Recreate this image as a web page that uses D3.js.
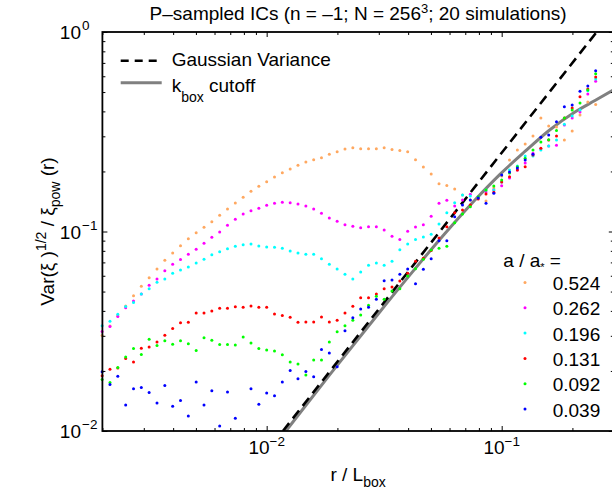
<!DOCTYPE html>
<html lang="en">
<head>
  <meta charset="UTF-8">
  <title>P-sampled ICs variance</title>
  <script src="https://cdn.jsdelivr.net/npm/d3@7/dist/d3.min.js"></script>
  <style>
    body { margin: 0; background: #fff; }
    svg { display: block; font-family: "Liberation Sans", Arial, sans-serif; }
  </style>
</head>
<body>
  <svg id="chart" width="612" height="499"></svg>
  <script>
    // separation r / L_box (shared by all series)
    const rVals = [0.001995,0.002154,0.002326,0.002512,0.002713,0.002929,0.003162,0.003415,0.003687,0.003981,
      0.004299,0.004642,0.005012,0.005412,0.005843,0.006310,0.006813,0.007356,0.007943,0.008577,
      0.009261,0.01,0.01080,0.01166,0.01259,0.01359,0.01468,0.01585,0.01711,0.01848,
      0.01995,0.02154,0.02326,0.02512,0.02713,0.02929,0.03162,0.03415,0.03687,0.03981,
      0.04299,0.04642,0.05012,0.05412,0.05843,0.06310,0.06813,0.07356,0.07943,0.08577,
      0.09261,0.1,0.1080,0.1166,0.1259,0.1359,0.1468,0.1585,0.1711,0.1848,
      0.1995,0.2154,0.2326,0.2512];

    const v0524 = [0.0301,0.0336,0.0378,0.0423,0.0476,0.0531,0.0586,0.0648,0.0717,0.0780,
      0.0849,0.0920,0.0986,0.105,0.112,0.1206,0.1297,0.139,0.1484,0.159,
      0.1684,0.1776,0.1875,0.197,0.2057,0.2146,0.223,0.229,0.234,0.2437,
      0.251,0.259,0.263,0.260,0.260,0.260,0.263,0.258,0.255,0.251,
      0.229,0.2105,0.194,0.1736,0.170,0.1633,0.1524,0.1438,0.1472,0.1421,
      0.165,0.1897,0.2282,0.2562,0.2745,0.3015,0.3705,0.338,0.334,0.2875,
      0.319,0.384,0.4455,0.4325];
    const v0262 = [0.0315,0.0334,0.0375,0.0415,0.0449,0.0486,0.0537,0.0578,0.0636,0.0685,
      0.0723,0.0768,0.0815,0.0873,0.0935,0.0994,0.1074,0.1151,0.1224,0.1272,
      0.1307,0.1353,0.1385,0.140,0.1395,0.1374,0.1342,0.1297,0.1234,0.1169,
      0.1125,0.1082,0.1062,0.1045,0.1057,0.1057,0.1017,0.0946,0.0913,0.1002,
      0.1053,0.1082,0.1192,0.1385,0.1433,0.1342,0.1438,0.1536,0.1489,0.1577,
      0.1614,0.1696,0.1854,0.2033,0.2204,0.2465,0.260,0.2683,0.2705,0.342,
      0.3705,0.3967,0.4886,0.5664];
    const v0196 = [0.0337,0.0355,0.0385,0.0421,0.0441,0.0486,0.0517,0.0556,0.0578,0.0617,
      0.0641,0.0663,0.0695,0.0726,0.0765,0.0792,0.0820,0.0843,0.0859,0.0866,
      0.0846,0.0836,0.0833,0.0824,0.0799,0.0780,0.0768,0.0768,0.0731,0.0685,
      0.0648,0.0610,0.0578,0.0626,0.0677,0.0695,0.0677,0.0709,0.0811,0.0866,
      0.0913,0.0938,0.0968,0.1091,0.1243,0.1395,0.1524,0.1507,0.1472,0.1614,
      0.1614,0.1770,0.2033,0.2129,0.2389,0.2389,0.2562,0.2683,0.2875,0.3448,
      0.3796,0.406,0.508,0.5817];
    const v0131 = [0.0189,0.0204,0.0207,0.0231,0.0222,0.0260,0.0264,0.0279,0.0302,0.0326,
      0.0349,0.0351,0.0390,0.0390,0.0399,0.0412,0.0412,0.0420,0.0417,0.0423,
      0.0417,0.0417,0.0386,0.0379,0.0372,0.0351,0.0352,0.0352,0.0373,0.0352,
      0.0359,0.0390,0.0422,0.0465,0.0465,0.0486,0.0517,0.0527,0.0564,0.0617,
      0.0709,0.0734,0.0802,0.0927,0.1057,0.1243,0.1282,0.1358,0.1455,0.1542,
      0.1571,0.1770,0.1882,0.2033,0.2112,0.2417,0.2613,0.2875,0.3015,0.3705,
      0.4164,0.4736,0.518,0.595];
    const v0092 = [0.0181,0.0175,0.0208,0.0235,0.0259,0.0242,0.0288,0.0268,0.0283,0.0272,
      0.0283,0.0274,0.0253,0.0293,0.0285,0.0271,0.0271,0.0270,0.0296,0.0276,
      0.0259,0.0255,0.0252,0.0241,0.0222,0.0217,0.0191,0.0227,0.0227,0.0279,
      0.0314,0.0337,0.0359,0.0382,0.0427,0.0473,0.0458,0.0503,0.0517,0.0598,
      0.0651,0.0726,0.0808,0.0824,0.0843,0.1107,0.1224,0.1332,0.1494,0.1614,
      0.1690,0.1812,0.1964,0.2112,0.2327,0.2562,0.2809,0.2885,0.3204,0.3705,
      0.406,0.4411,0.512,0.618];
    const v0039 = [0.0198,0.0171,0.0188,0.0135,0.0163,0.0165,0.0156,0.0138,0.0169,0.0133,
      0.0142,0.0119,0.0176,0.0135,0.0159,0.0106,0.0157,0.0116,null,0.0163,
      0.0136,0.0155,0.0150,0.0176,0.0201,0.0183,0.0199,0.0187,0.0256,0.0246,
      0.0210,0.0318,0.0370,0.0409,0.0417,0.0457,0.0566,0.0571,0.0610,0.0648,
      0.0547,0.0646,0.0731,0.0899,0.0899,0.1186,0.1358,0.1438,0.1472,0.1385,
      0.1555,0.1919,0.1986,0.2081,0.2282,0.2437,0.297,0.305,0.355,0.4225,
      0.431,0.5044,0.5358,0.640];

    const seriesLabels = ['0.524', '0.262', '0.196', '0.131', '0.092', '0.039'];
    const seriesValues = [v0524, v0262, v0196, v0131, v0092, v0039];
    const seriesColors = ['#ffa860', '#ff00ff', '#00ffff', '#ff0000', '#00ff00', '#0000ff'];

    // reference curves
    const gaussR = [0.01173, 0.2537];
    const gaussV = [0.01, 1];
    const kboxR = [0.01143, 0.01208, 0.01860, 0.03034, 0.04491, 0.06026, 0.07697, 0.09835, 0.1256, 0.1605, 0.2050, 0.2495, 0.3034];
    const kboxV = [0.0092, 0.01, 0.01924, 0.03963, 0.06962, 0.1044, 0.1438, 0.1935, 0.2518, 0.3237, 0.3972, 0.4535, 0.5178];

    const xMajor = [0.01, 0.1];
    const xMinor = [0.002, 0.003, 0.004, 0.005, 0.006, 0.007, 0.008, 0.009,
      0.02, 0.03, 0.04, 0.05, 0.06, 0.07, 0.08, 0.09, 0.2, 0.3];
    const yMajor = [0.01, 0.1, 1];
    const yMinor = [0.02, 0.03, 0.04, 0.05, 0.06, 0.07, 0.08, 0.09,
      0.2, 0.3, 0.4, 0.5, 0.6, 0.7, 0.8, 0.9];

    const plot = { left: 102.4, right: 613.8, top: 32, bottom: 431 };
    const fs = 19;

    const svg = d3.select('#chart');
    const x = d3.scaleLog().domain([0.002, 0.3]).range([plot.left, plot.right]);
    const y = d3.scaleLog().domain([0.01, 1]).range([plot.bottom, plot.top]);

    svg.append('clipPath').attr('id', 'clip')
      .append('rect')
      .attr('x', plot.left).attr('y', plot.top)
      .attr('width', plot.right - plot.left).attr('height', plot.bottom - plot.top);

    // Gaussian variance (dashed) and k_box cutoff (grey)
    const smooth = d3.line().x(d => x(d[0])).y(d => y(d[1])).curve(d3.curveMonotoneX);
    const straight = d3.line().x(d => x(d[0])).y(d => y(d[1]));
    svg.append('path')
      .attr('clip-path', 'url(#clip)')
      .attr('d', smooth(d3.zip(kboxR, kboxV)))
      .attr('fill', 'none').attr('stroke', '#808080').attr('stroke-width', 3);
    svg.append('path')
      .attr('clip-path', 'url(#clip)')
      .attr('d', straight(d3.zip(gaussR, gaussV)))
      .attr('fill', 'none').attr('stroke', '#000').attr('stroke-width', 2.6)
      .attr('stroke-dasharray', '10,6');

    // dots
    seriesValues.forEach((vals, k) => {
      const pts = d3.zip(rVals, vals).filter(d => d[1] != null && d[1] >= 0.01 && d[1] <= 1);
      svg.append('g')
        .selectAll('circle')
        .data(pts)
        .enter().append('circle')
        .attr('cx', d => x(d[0]))
        .attr('cy', d => y(d[1]))
        .attr('r', 1.5)
        .attr('fill', seriesColors[k]);
    });

    // axes: ticks pointing inward on all four sides
    function ticks(gen, tx, ty) {
      const g = svg.append('g').attr('transform', `translate(${tx},${ty})`).call(gen);
      g.select('.domain').remove();
      g.selectAll('text').remove();
      g.selectAll('line').attr('stroke', '#000').attr('stroke-width', 1);
    }
    [[xMajor, 5], [xMinor, 3]].forEach(([vals, len]) => {
      ticks(d3.axisBottom(x).tickValues(vals).tickSize(-len), 0, plot.bottom);
      ticks(d3.axisTop(x).tickValues(vals).tickSize(-len), 0, plot.top);
    });
    [[yMajor, 5], [yMinor, 3]].forEach(([vals, len]) => {
      ticks(d3.axisLeft(y).tickValues(vals).tickSize(-len), plot.left, 0);
      ticks(d3.axisRight(y).tickValues(vals).tickSize(-len), plot.right, 0);
    });
    svg.append('rect')
      .attr('x', plot.left).attr('y', plot.top)
      .attr('width', plot.right - plot.left).attr('height', plot.bottom - plot.top)
      .attr('fill', 'none').attr('stroke', '#000').attr('stroke-width', 1.8);

    // tick labels
    const exp = v => String(Math.round(Math.log10(v))).replace('-', '\u2212');
    xMajor.forEach(v => {
      const t = svg.append('text')
        .attr('x', x(v)).attr('y', plot.bottom + 23)
        .attr('text-anchor', 'middle').attr('font-size', fs);
      t.append('tspan').text('10');
      t.append('tspan').attr('font-size', 13.5).attr('dy', -8).text(exp(v));
    });
    yMajor.forEach(v => {
      svg.append('text')
        .attr('x', 81).attr('y', y(v) + 7.3)
        .attr('text-anchor', 'end').attr('font-size', fs).text('10');
      svg.append('text')
        .attr('x', 82).attr('y', y(v) - 2)
        .attr('font-size', 13.5).text(exp(v));
    });

    // title
    const title = svg.append('text')
      .attr('x', (plot.left + plot.right) / 2).attr('y', 20)
      .attr('text-anchor', 'middle').attr('font-size', fs);
    title.append('tspan').text('P\u2013sampled ICs (n = \u20131; N = 256');
    title.append('tspan').attr('font-size', 13).attr('dy', -7).text('3');
    title.append('tspan').attr('dy', 7).text('; 20 simulations)');

    // x label
    const xl = svg.append('text')
      .attr('x', (plot.left + plot.right) / 2).attr('y', 481)
      .attr('text-anchor', 'middle').attr('font-size', fs);
    xl.append('tspan').text('r / L');
    xl.append('tspan').attr('font-size', 14).attr('dy', 6).text('box');

    // y label
    const yl = svg.append('text')
      .attr('transform', `translate(54,${(plot.top + plot.bottom) / 2}) rotate(-90)`)
      .attr('text-anchor', 'middle').attr('font-size', fs);
    yl.append('tspan').text('Var(\u03be )');
    yl.append('tspan').attr('font-size', 14).attr('dy', -8).text('1/2');
    yl.append('tspan').attr('dy', 8).text(' / \u03be');
    yl.append('tspan').attr('font-size', 14).attr('dy', 6).text('pow');
    yl.append('tspan').attr('dy', -6).text(' (r)');

    // legend for the reference curves
    svg.append('line')
      .attr('x1', 120.7).attr('x2', 161.7).attr('y1', 60.7).attr('y2', 60.7)
      .attr('stroke', '#000').attr('stroke-width', 2.6).attr('stroke-dasharray', '8,6');
    svg.append('text').attr('x', 171.7).attr('y', 66).attr('font-size', fs).text('Gaussian Variance');
    svg.append('line')
      .attr('x1', 120.7).attr('x2', 161.7).attr('y1', 82.7).attr('y2', 82.7)
      .attr('stroke', '#808080').attr('stroke-width', 3);
    const kb = svg.append('text').attr('x', 171.7).attr('y', 91.5).attr('font-size', fs);
    kb.append('tspan').text('k');
    kb.append('tspan').attr('font-size', 14).attr('dy', 10).text('box');
    kb.append('tspan').attr('dy', -10).text(' cutoff');

    // legend for the expansion factors
    const hdr = svg.append('text').attr('x', 503.3).attr('y', 267).attr('font-size', fs);
    hdr.append('tspan').text('a / a');
    hdr.append('tspan').attr('font-size', 11).attr('dy', 4).text('*');
    hdr.append('tspan').attr('dy', -4).text(' =');
    seriesLabels.forEach((lab, k) => {
      const ry = 282.5 + k * 25.3;
      svg.append('circle').attr('cx', 525).attr('cy', ry).attr('r', 1.5).attr('fill', seriesColors[k]);
      svg.append('text').attr('x', 552.7).attr('y', ry + 7.5).attr('font-size', fs).text(lab);
    });
  </script>
</body>
</html>
